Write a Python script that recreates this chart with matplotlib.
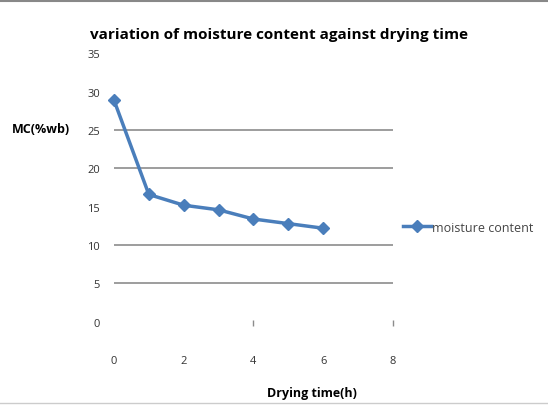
import matplotlib
matplotlib.use("Agg")
import matplotlib.pyplot as plt
from matplotlib.lines import Line2D

# data
drying_time = [0, 1, 2, 3, 4, 5, 6]
moisture = [28.9, 16.6, 15.2, 14.6, 13.4, 12.8, 12.2]
yticks = [0, 5, 10, 15, 20, 25, 30, 35]
xticks = [0, 2, 4, 6, 8]
grid_levels = [5, 10, 20, 25]

blue = "#4a7ebb"
plt.rcParams["font.family"] = ["Open Sans", "DejaVu Sans"]

fig = plt.figure(figsize=(5.48, 4.06), dpi=100)
ax = fig.add_axes([0.208, 0.205, 0.509, 0.661])

for g in grid_levels:
    ax.axhline(g, color="#8c8c8c", lw=1.2, zorder=1)
ax.vlines([4, 8], -0.6, 0.2, color="#8c8c8c", lw=1, clip_on=False)

ax.plot(drying_time, moisture, color=blue, lw=2.5, marker="D", ms=6,
        zorder=3, label="moisture content", clip_on=False)

ax.set_xlim(0, 8)
ax.set_ylim(0, 35)
ax.set_xticks(xticks)
ax.set_yticks(yticks)
ax.tick_params(length=0, labelsize=8, colors="#333333")
ax.tick_params(axis="x", pad=24)
ax.tick_params(axis="y", pad=10)
for s in ax.spines.values():
    s.set_visible(False)

fig.text(0.51, 0.915, "variation of moisture content against drying time",
         ha="center", va="center", fontsize=11, fontweight="bold")
fig.text(0.075, 0.68, "MC(%wb)", ha="center", va="center", fontsize=9,
         fontweight="bold")
fig.text(0.57, 0.032, "Drying time(h)", ha="center", va="center",
         fontsize=9, fontweight="bold")

handle = Line2D([], [], color=blue, lw=2.5, marker="D", ms=6)
fig.legend([handle], ["moisture content"], loc="center left",
           bbox_to_anchor=(0.715, 0.438), frameon=False, fontsize=9,
           handlelength=2.2, handletextpad=0.1, labelcolor="#444444")

# faint frame lines at top and bottom of the image
fig.add_artist(Line2D([0, 1], [0.995, 0.995], color="#888888", lw=1.5))
fig.add_artist(Line2D([0, 1], [0.006, 0.006], color="#cccccc", lw=1))

fig.savefig("out.png", dpi=100)
